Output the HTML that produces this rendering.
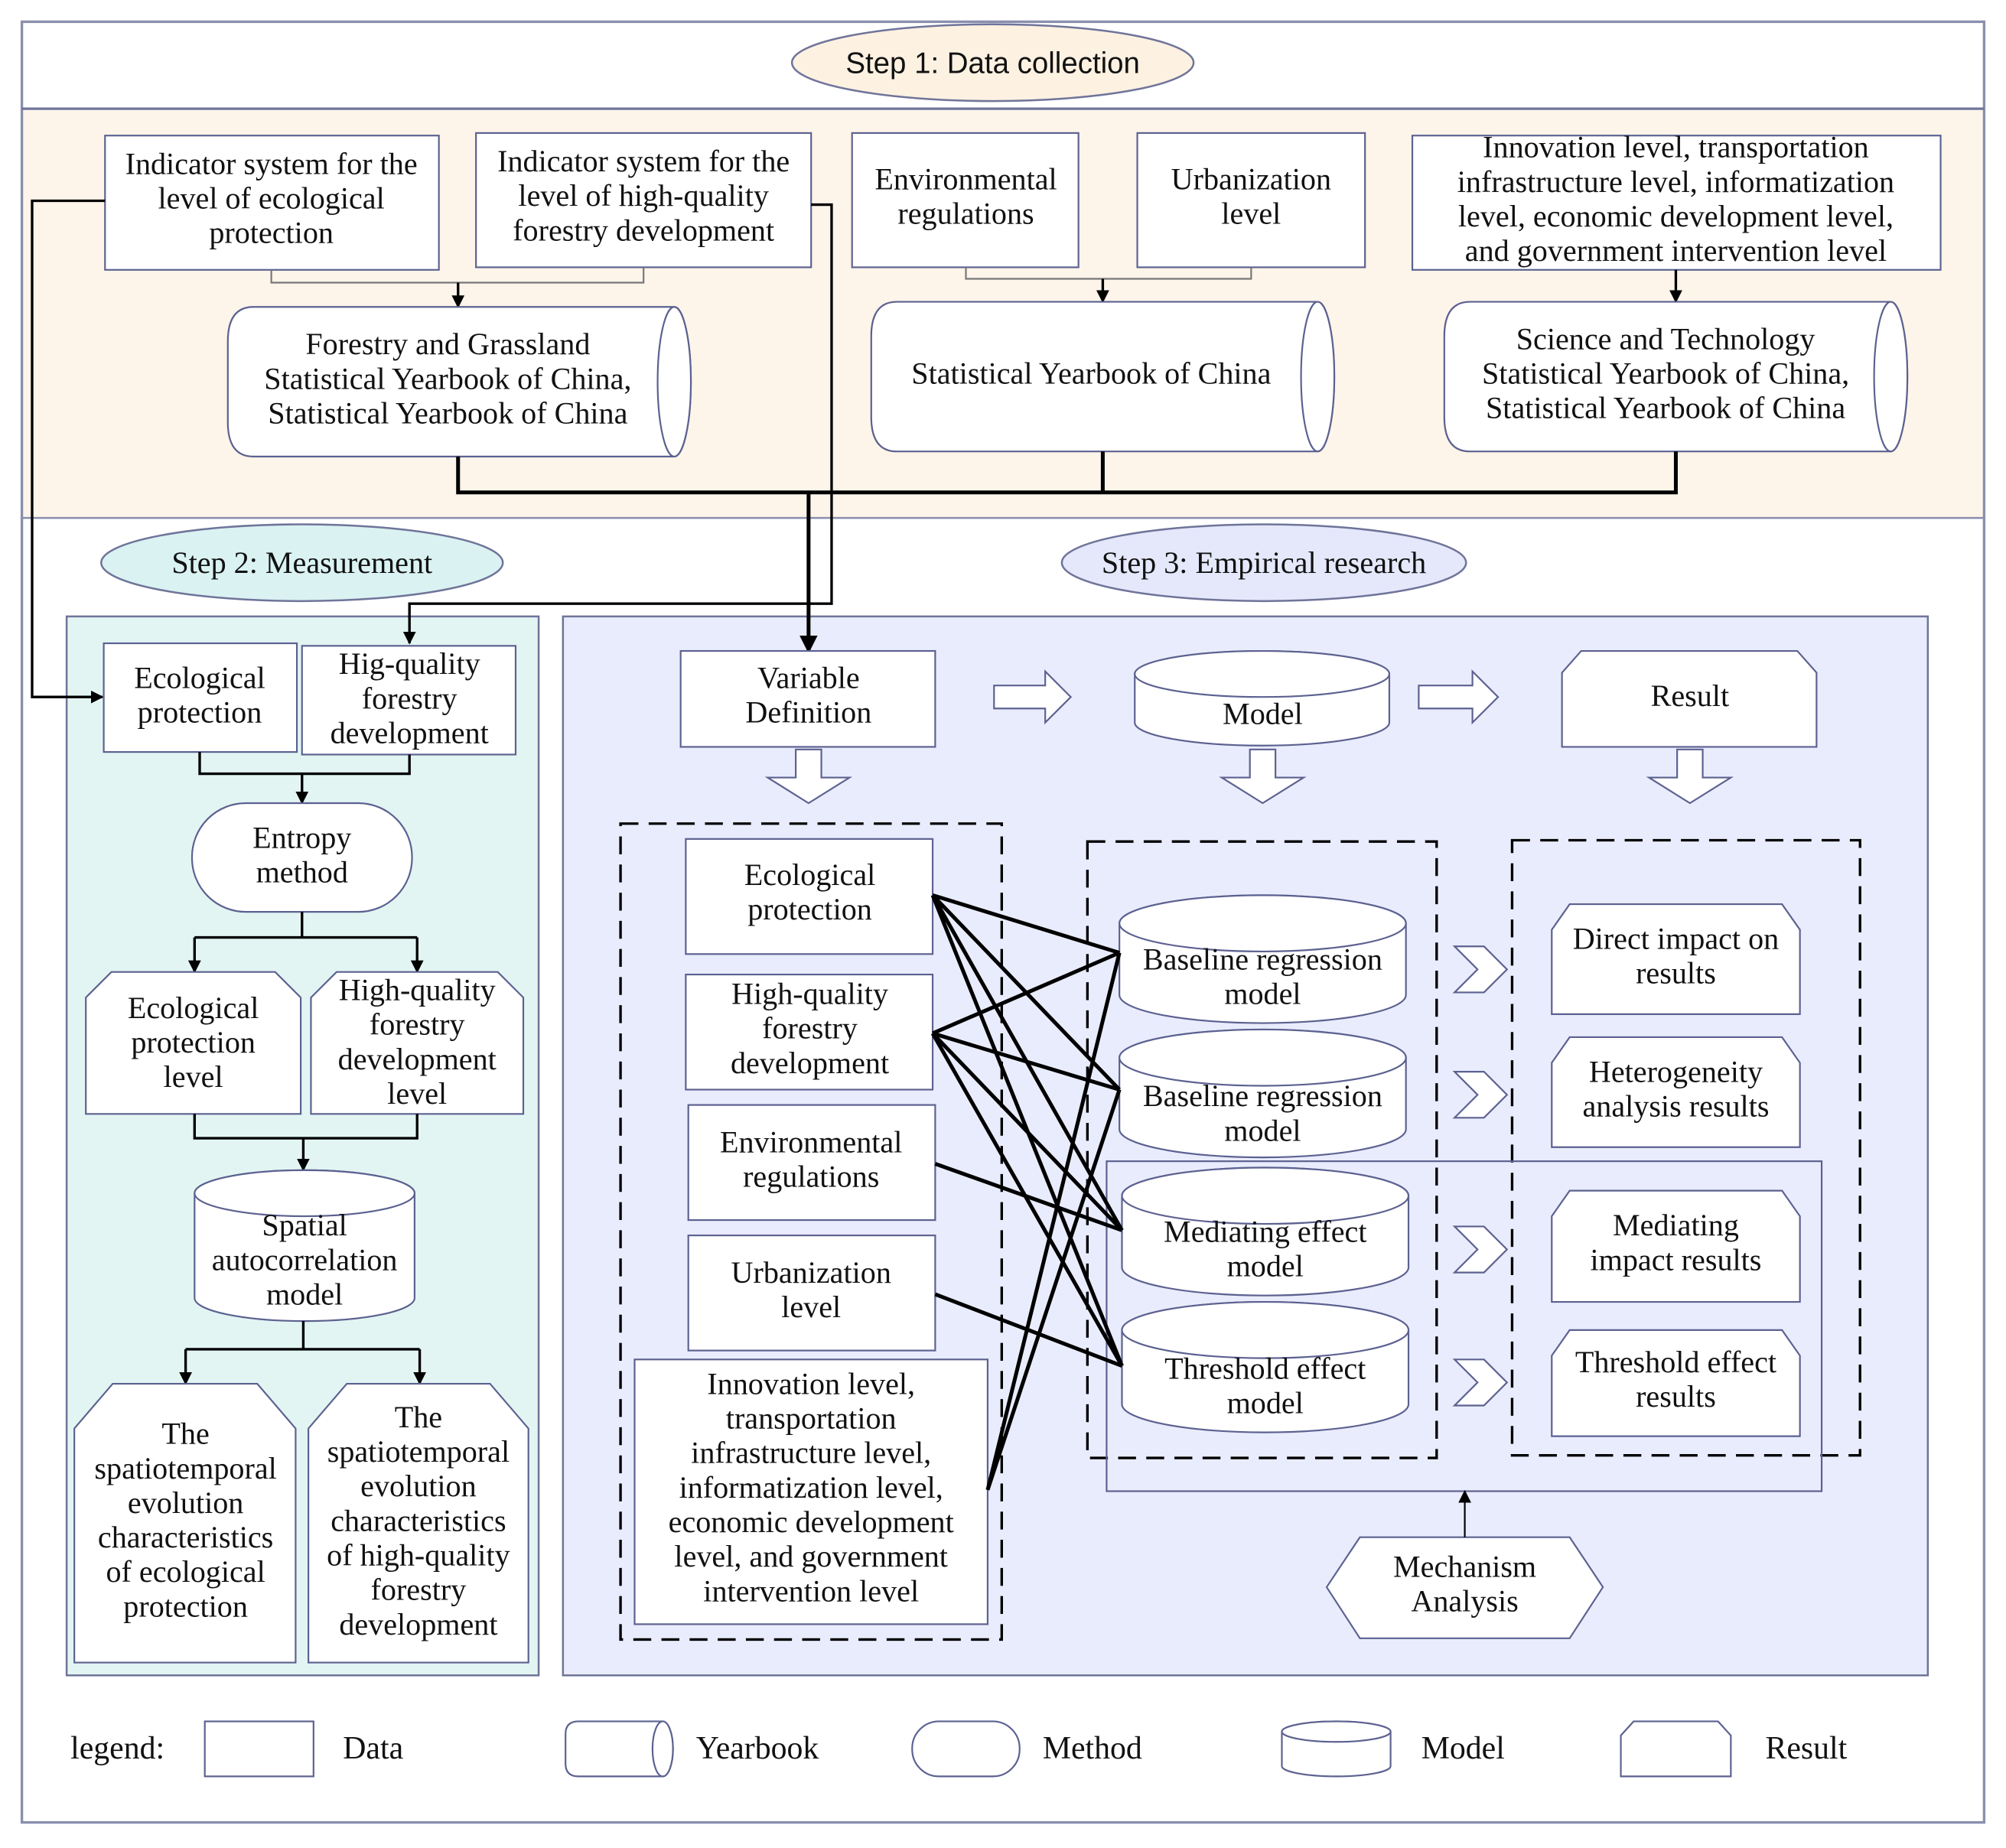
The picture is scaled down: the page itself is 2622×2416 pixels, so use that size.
<!DOCTYPE html>
<html><head><meta charset="utf-8"><style>
html,body{margin:0;padding:0;background:#fff;}
svg{display:block;}
text{font-family:"Liberation Serif",serif;font-size:24px;fill:#111;text-anchor:middle;}
.s{fill:#fff;stroke:#5c6190;stroke-width:1.3;}
.l{fill:none;stroke:#000;stroke-width:2;}
.t{fill:none;stroke:#000;stroke-width:3;}
.d{fill:none;stroke:#000;stroke-width:2;stroke-dasharray:14 8;}
</style></head><body>
<svg width="2622" height="2416" viewBox="0 0 1568 1445" xmlns="http://www.w3.org/2000/svg">
<defs>
<marker id="a" markerWidth="10" markerHeight="10" refX="9" refY="5" orient="auto" markerUnits="userSpaceOnUse"><path d="M0,0 L10,5 L0,10 Z" fill="#000"/></marker>
<marker id="b" markerWidth="14" markerHeight="14" refX="13" refY="7" orient="auto" markerUnits="userSpaceOnUse"><path d="M0,0 L14,7 L0,14 Z" fill="#000"/></marker>
</defs>
<rect x="0" y="0" width="1568" height="1445" fill="#fff"/>
<rect x="17" y="85" width="1534" height="320" fill="#fdf4ea"/>
<rect x="17" y="17" width="1534" height="1408" fill="none" stroke="#8a8fae" stroke-width="2"/>
<line x1="17" y1="85" x2="1551" y2="85" stroke="#6f7499" stroke-width="2"/>
<line x1="17" y1="405" x2="1551" y2="405" stroke="#8a8fae" stroke-width="1.5"/>
<ellipse cx="776" cy="49" rx="157" ry="30" fill="#fdf1e2" stroke="#6f7499" stroke-width="1.5"/>
<text x="776" y="57" style="font-family:'Liberation Sans',sans-serif;font-size:23px">Step 1: Data collection</text>

<rect class="s" x="82" y="106" width="261" height="105"/>
<text x="212" y="136">Indicator system for the</text><text x="212" y="163">level of ecological</text><text x="212" y="190">protection</text>
<rect class="s" x="372" y="104" width="262" height="105"/>
<text x="503" y="134">Indicator system for the</text><text x="503" y="161">level of high-quality</text><text x="503" y="188">forestry development</text>
<rect class="s" x="666" y="104" width="177" height="105"/>
<text x="755" y="148">Environmental</text><text x="755" y="175">regulations</text>
<rect class="s" x="889" y="104" width="178" height="105"/>
<text x="978" y="148">Urbanization</text><text x="978" y="175">level</text>
<rect class="s" x="1104" y="106" width="413" height="105"/>
<text x="1310" y="123">Innovation level, transportation</text><text x="1310" y="150">infrastructure level, informatization</text><text x="1310" y="177">level, economic development level,</text><text x="1310" y="204">and government intervention level</text>

<path d="M212,211 V221 H503 V209" fill="none" stroke="#777" stroke-width="1.3"/>
<line x1="358" y1="221" x2="358" y2="240" class="l" marker-end="url(#a)"/>
<path d="M755,209 V218 H978 V209" fill="none" stroke="#777" stroke-width="1.3"/>
<line x1="862" y1="218" x2="862" y2="236" class="l" marker-end="url(#a)"/>
<line x1="1310" y1="211" x2="1310" y2="236" class="l" marker-end="url(#a)"/>

<path class="s" d="M198,240 H527 A13,58.5 0 0 1 527,357 H198 Q178,357 178,330 V267 Q178,240 198,240 Z"/>
<ellipse class="s" cx="527" cy="298.5" rx="13" ry="58.5"/>
<text x="350" y="277">Forestry and Grassland</text><text x="350" y="304">Statistical Yearbook of China,</text><text x="350" y="331">Statistical Yearbook of China</text>
<path class="s" d="M701,236 H1030 A13,58.5 0 0 1 1030,353 H701 Q681,353 681,326 V263 Q681,236 701,236 Z"/>
<ellipse class="s" cx="1030" cy="294.5" rx="13" ry="58.5"/>
<text x="853" y="300">Statistical Yearbook of China</text>
<path class="s" d="M1149,236 H1478 A13,58.5 0 0 1 1478,353 H1149 Q1129,353 1129,326 V263 Q1129,236 1149,236 Z"/>
<ellipse class="s" cx="1478" cy="294.5" rx="13" ry="58.5"/>
<text x="1302" y="273">Science and Technology</text><text x="1302" y="300">Statistical Yearbook of China,</text><text x="1302" y="327">Statistical Yearbook of China</text>

<ellipse cx="236" cy="440" rx="157" ry="30" fill="#daf2f2" stroke="#6f7499" stroke-width="1.5"/>
<text x="236" y="448">Step 2:  Measurement</text>
<ellipse cx="988" cy="440" rx="158" ry="30" fill="#e5e8fb" stroke="#6f7499" stroke-width="1.5"/>
<text x="988" y="448">Step 3: Empirical research</text>

<rect x="52" y="482" width="369" height="828" fill="#e2f5f3" stroke="#6f7499" stroke-width="1.5"/>
<rect x="440" y="482" width="1067" height="828" fill="#e9ecfc" stroke="#6f7499" stroke-width="1.5"/>

<path class="t" d="M358,357 V385 H1310 V353"/>
<line class="t" x1="862" y1="353" x2="862" y2="385"/>
<line x1="632" y1="385" x2="632" y2="510" class="t" marker-end="url(#b)"/>
<path class="l" d="M634,160 H650 V472 H320 V503" marker-end="url(#a)"/>
<path class="l" d="M82,157 H25 V545 H80" marker-end="url(#a)"/>

<rect class="s" x="81" y="503" width="151" height="85"/>
<text x="156" y="538">Ecological</text><text x="156" y="565">protection</text>
<rect class="s" x="236" y="505" width="167" height="85"/>
<text x="320" y="527">Hig-quality</text><text x="320" y="554">forestry</text><text x="320" y="581">development</text>
<path class="l" d="M156,588 V605 H320 V590"/>
<line class="l" x1="236" y1="605" x2="236" y2="628" marker-end="url(#a)"/>
<rect class="s" x="150" y="628" width="172" height="85" rx="42"/>
<text x="236" y="663">Entropy</text><text x="236" y="690">method</text>
<path class="l" d="M236,713 V733 H152 M236,733 H326"/>
<line class="l" x1="152" y1="733" x2="152" y2="760" marker-end="url(#a)"/>
<line class="l" x1="326" y1="733" x2="326" y2="760" marker-end="url(#a)"/>
<path class="s" d="M67,780 L87,760 H215 L235,780 V871 H67 Z"/>
<text x="151" y="796">Ecological</text><text x="151" y="823">protection</text><text x="151" y="850">level</text>
<path class="s" d="M243,780 L263,760 H389 L409,780 V871 H243 Z"/>
<text x="326" y="782">High-quality</text><text x="326" y="809">forestry</text><text x="326" y="836">development</text><text x="326" y="863">level</text>
<path class="l" d="M152,871 V890 H326 V871"/>
<line class="l" x1="237" y1="890" x2="237" y2="915" marker-end="url(#a)"/>
<path class="s" d="M152,933 A86,18 0 0 1 324,933 V1015 A86,18 0 0 1 152,1015 Z"/>
<ellipse class="s" cx="238" cy="933" rx="86" ry="18"/>
<text x="238" y="966">Spatial</text><text x="238" y="993">autocorrelation</text><text x="238" y="1020">model</text>
<path class="l" d="M237,1033 V1055 H145 M237,1055 H328"/>
<line class="l" x1="145" y1="1055" x2="145" y2="1082" marker-end="url(#a)"/>
<line class="l" x1="328" y1="1055" x2="328" y2="1082" marker-end="url(#a)"/>
<path class="s" d="M58,1117 L88,1082 H201 L231,1117 V1300 H58 Z"/>
<text x="145" y="1129">The</text><text x="145" y="1156">spatiotemporal</text><text x="145" y="1183">evolution</text><text x="145" y="1210">characteristics</text><text x="145" y="1237">of ecological</text><text x="145" y="1264">protection</text>
<path class="s" d="M241,1117 L271,1082 H383 L413,1117 V1300 H241 Z"/>
<text x="327" y="1116">The</text><text x="327" y="1143">spatiotemporal</text><text x="327" y="1170">evolution</text><text x="327" y="1197">characteristics</text><text x="327" y="1224">of high-quality</text><text x="327" y="1251">forestry</text><text x="327" y="1278">development</text>

<rect class="s" x="532" y="509" width="199" height="75"/>
<text x="632" y="538">Variable</text><text x="632" y="565">Definition</text>
<path class="s" d="M777,536 H817 V525 L837,545 L817,565 V554 H777 Z"/>
<path class="s" d="M887,527 A99.5,18 0 0 1 1086,527 V565 A99.5,18 0 0 1 887,565 Z"/>
<ellipse class="s" cx="986.5" cy="527" rx="99.5" ry="18"/>
<text x="987" y="566">Model</text>
<path class="s" d="M1109,536 H1151 V525 L1171,545 L1151,565 V554 H1109 Z"/>
<path class="s" d="M1221,526 L1236,509 H1405 L1420,526 V584 H1221 Z"/>
<text x="1321" y="552">Result</text>
<path class="s" d="M622,586 H642 V608 H664 L632,628 L600,608 H622 Z"/>
<path class="s" d="M977,586 H997 V608 H1019 L987,628 L955,608 H977 Z"/>
<path class="s" d="M1311,586 H1331 V608 H1353 L1321,628 L1289,608 H1311 Z"/>

<rect class="d" x="485" y="644" width="298" height="638"/>
<rect class="d" x="850" y="658" width="273" height="482"/>
<rect class="d" x="1182" y="657" width="272" height="481"/>
<rect x="865" y="908" width="559" height="258" fill="none" stroke="#5c6190" stroke-width="1.3"/>

<rect class="s" x="536" y="656" width="193" height="90"/>
<text x="633" y="692">Ecological</text><text x="633" y="719">protection</text>
<rect class="s" x="536" y="762" width="193" height="90"/>
<text x="633" y="785">High-quality</text><text x="633" y="812">forestry</text><text x="633" y="839">development</text>
<rect class="s" x="538" y="864" width="193" height="90"/>
<text x="634" y="901">Environmental</text><text x="634" y="928">regulations</text>
<rect class="s" x="538" y="966" width="193" height="90"/>
<text x="634" y="1003">Urbanization</text><text x="634" y="1030">level</text>
<rect class="s" x="496" y="1063" width="276" height="207"/>
<text x="634" y="1090">Innovation level,</text><text x="634" y="1117">transportation</text><text x="634" y="1144">infrastructure level,</text><text x="634" y="1171">informatization level,</text><text x="634" y="1198">economic development</text><text x="634" y="1225">level, and government</text><text x="634" y="1252">intervention level</text>

<path class="s" d="M875,722 A112,22 0 0 1 1099,722 V778 A112,22 0 0 1 875,778 Z"/>
<ellipse class="s" cx="987" cy="722" rx="112" ry="22"/>
<text x="987" y="758">Baseline regression</text><text x="987" y="785">model</text>
<path class="s" d="M875,827 A112,22 0 0 1 1099,827 V883 A112,22 0 0 1 875,883 Z"/>
<ellipse class="s" cx="987" cy="827" rx="112" ry="22"/>
<text x="987" y="865">Baseline regression</text><text x="987" y="892">model</text>
<path class="s" d="M877,935 A112,22 0 0 1 1101,935 V991 A112,22 0 0 1 877,991 Z"/>
<ellipse class="s" cx="989" cy="935" rx="112" ry="22"/>
<text x="989" y="971">Mediating effect</text><text x="989" y="998">model</text>
<path class="s" d="M877,1040 A112,22 0 0 1 1101,1040 V1098 A112,22 0 0 1 877,1098 Z"/>
<ellipse class="s" cx="989" cy="1040" rx="112" ry="22"/>
<text x="989" y="1078">Threshold effect</text><text x="989" y="1105">model</text>

<g class="t">
<path d="M729,700 L875,745 M729,700 L875,852 M729,700 L877,962 M729,700 L877,1068"/>
<path d="M729,808 L875,745 M729,808 L875,852 M729,808 L877,962 M729,808 L877,1068"/>
<path d="M731,910 L877,962 M731,1012 L877,1068"/>
<path d="M772,1165 L875,745 M772,1165 L875,852"/>
</g>

<path class="s" d="M1137,740 H1160 L1178,758 L1160,776 H1137 L1155,758 Z"/>
<path class="s" d="M1137,838 H1160 L1178,856 L1160,874 H1137 L1155,856 Z"/>
<path class="s" d="M1137,959 H1160 L1178,977 L1160,995 H1137 L1155,977 Z"/>
<path class="s" d="M1137,1063 H1160 L1178,1081 L1160,1099 H1137 L1155,1081 Z"/>

<path class="s" d="M1213,727 L1227,707 H1393 L1407,727 V793 H1213 Z"/>
<text x="1310" y="742">Direct impact on</text><text x="1310" y="769">results</text>
<path class="s" d="M1213,831 L1227,811 H1393 L1407,831 V897 H1213 Z"/>
<text x="1310" y="846">Heterogeneity</text><text x="1310" y="873">analysis results</text>
<path class="s" d="M1213,951 L1227,931 H1393 L1407,951 V1018 H1213 Z"/>
<text x="1310" y="966">Mediating</text><text x="1310" y="993">impact results</text>
<path class="s" d="M1213,1060 L1227,1040 H1393 L1407,1060 V1123 H1213 Z"/>
<text x="1310" y="1073">Threshold effect</text><text x="1310" y="1100">results</text>

<path class="s" d="M1037,1241 L1063,1202 H1227 L1253,1241 L1227,1281 H1063 Z"/>
<text x="1145" y="1233">Mechanism</text><text x="1145" y="1260">Analysis</text>
<line x1="1145" y1="1202" x2="1145" y2="1166" stroke="#000" stroke-width="1.3" marker-end="url(#a)"/>

<text x="55" y="1375" style="text-anchor:start;font-size:25px">legend:</text>
<rect class="s" x="160" y="1346" width="85" height="43"/>
<text x="268" y="1375" style="text-anchor:start;font-size:25px">Data</text>
<path class="s" d="M452,1346 H518 A8,21.5 0 0 1 518,1389 H452 Q442,1389 442,1379 V1356 Q442,1346 452,1346 Z"/>
<ellipse class="s" cx="518" cy="1367.5" rx="8" ry="21.5"/>
<text x="544" y="1375" style="text-anchor:start;font-size:25px">Yearbook</text>
<rect class="s" x="713" y="1346" width="84" height="43" rx="21"/>
<text x="815" y="1375" style="text-anchor:start;font-size:25px">Method</text>
<path class="s" d="M1002,1354 A42.5,8 0 0 1 1087,1354 V1381 A42.5,8 0 0 1 1002,1381 Z"/>
<ellipse class="s" cx="1044.5" cy="1354" rx="42.5" ry="8"/>
<text x="1111" y="1375" style="text-anchor:start;font-size:25px">Model</text>
<path class="s" d="M1267,1357 L1277,1346 H1343 L1353,1357 V1389 H1267 Z"/>
<text x="1380" y="1375" style="text-anchor:start;font-size:25px">Result</text>
</svg>
</body></html>
